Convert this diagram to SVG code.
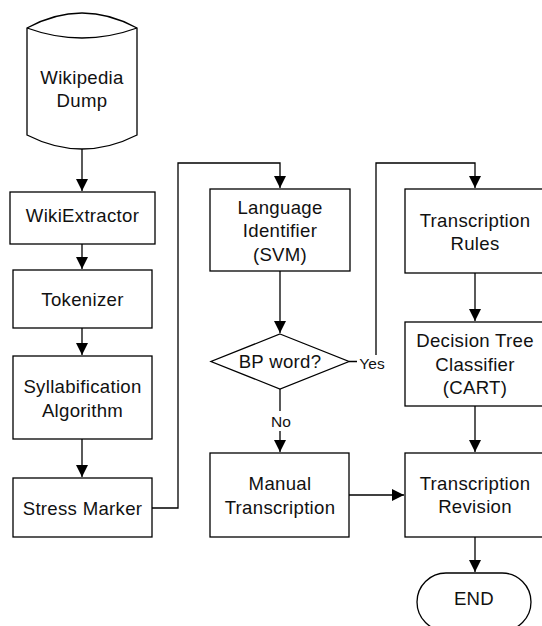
<svg xmlns="http://www.w3.org/2000/svg" width="542" height="626" viewBox="0 0 542 626">
<defs>
<marker id="arr" markerUnits="userSpaceOnUse" markerWidth="12" markerHeight="12" viewBox="0 0 10 10" refX="10" refY="5" orient="auto">
<path d="M0,0 L10,5 L0,10 z" fill="#000"/>
</marker>
<style>
.s{fill:#fff;stroke:#000;stroke-width:1.3}
.t{font-family:"Liberation Sans",Arial,sans-serif;font-size:18.6px;fill:#111;text-anchor:middle;letter-spacing:0.3px}
.l{font-family:"Liberation Sans",Arial,sans-serif;font-size:15.5px;fill:#111;text-anchor:middle}
.c{fill:none;stroke:#000;stroke-width:1.3}
</style>
</defs>
<rect width="542" height="626" fill="#fff"/>
<g id="connectors">
<path class="c" d="M82,149 V191" marker-end="url(#arr)"/>
<path class="c" d="M82,244 V269" marker-end="url(#arr)"/>
<path class="c" d="M82,328 V355" marker-end="url(#arr)"/>
<path class="c" d="M82,439 V477" marker-end="url(#arr)"/>
<path class="c" d="M152,508 H178 V163 H280 V188" marker-end="url(#arr)"/>
<path class="c" d="M280,271 V333" marker-end="url(#arr)"/>
<path class="c" d="M280,389 V452" marker-end="url(#arr)"/>
<path class="c" d="M349,361.5 H376 V163 H475 V188" marker-end="url(#arr)"/>
<path class="c" d="M349,495 H404" marker-end="url(#arr)"/>
<path class="c" d="M475,273 V321" marker-end="url(#arr)"/>
<path class="c" d="M475,406 V452" marker-end="url(#arr)"/>
<path class="c" d="M475,537 V572" marker-end="url(#arr)"/>
<rect x="357" y="355" width="31" height="17" fill="#fff"/>
<text class="l" x="372" y="369">Yes</text>
<rect x="270" y="411" width="22" height="20" fill="#fff"/>
<text class="l" x="281" y="427">No</text>
</g>
<g id="wikipedia-dump">
<path class="s" d="M27,28 Q82,-2 137,28 V135 Q82,163 27,135 Z"/>
<path class="c" d="M27,28 Q82,48 137,28"/>
<text class="t" x="82" y="83.5">Wikipedia</text>
<text class="t" x="82" y="106.5">Dump</text>
</g>
<g id="wikiextractor">
<rect class="s" x="10" y="192" width="145" height="52"/>
<text class="t" x="82.5" y="221.5">WikiExtractor</text>
</g>
<g id="tokenizer">
<rect class="s" x="13" y="270" width="139" height="58"/>
<text class="t" x="82.5" y="306">Tokenizer</text>
</g>
<g id="syllabification">
<rect class="s" x="13" y="356" width="139" height="83"/>
<text class="t" x="82.5" y="392.5">Syllabification</text>
<text class="t" x="82.5" y="416.5">Algorithm</text>
</g>
<g id="stress-marker">
<rect class="s" x="13" y="478" width="139" height="59"/>
<text class="t" x="82.5" y="514.5">Stress Marker</text>
</g>
<g id="language-identifier">
<rect class="s" x="210" y="189" width="140" height="82"/>
<text class="t" x="280" y="213.5">Language</text>
<text class="t" x="280" y="237">Identifier</text>
<text class="t" x="280" y="260.5">(SVM)</text>
</g>
<g id="bp-word">
<path class="s" d="M280,334 L349,361.5 L280,389 L211,361.5 Z"/>
<text class="t" x="280" y="367.5">BP word?</text>
</g>
<g id="manual-transcription">
<rect class="s" x="210" y="453" width="139" height="84"/>
<text class="t" x="280" y="490">Manual</text>
<text class="t" x="280" y="513.5">Transcription</text>
</g>
<g id="transcription-rules">
<rect class="s" x="405" y="189" width="140" height="84"/>
<text class="t" x="475" y="227">Transcription</text>
<text class="t" x="475" y="250">Rules</text>
</g>
<g id="decision-tree">
<rect class="s" x="405" y="322" width="140" height="84"/>
<text class="t" x="475" y="347.3">Decision Tree</text>
<text class="t" x="475" y="370.8">Classifier</text>
<text class="t" x="475" y="394.3">(CART)</text>
</g>
<g id="transcription-revision">
<rect class="s" x="405" y="453" width="140" height="84"/>
<text class="t" x="475" y="490.3">Transcription</text>
<text class="t" x="475" y="513.3">Revision</text>
</g>
<g id="end">
<rect class="s" x="417" y="573" width="114" height="58" rx="29" ry="29"/>
<text class="t" x="474" y="605">END</text>
</g>
</svg>
